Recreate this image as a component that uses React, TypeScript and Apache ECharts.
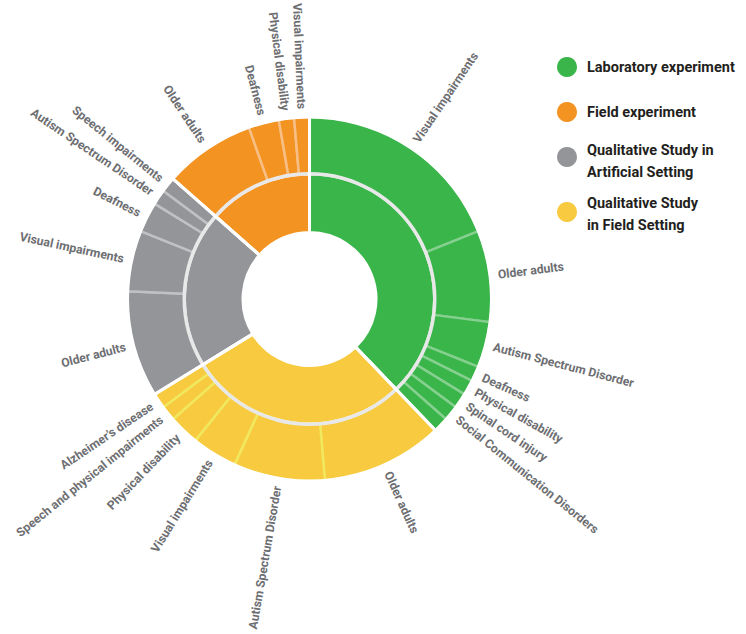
import React, { useEffect, useRef } from "react";
import * as echarts from "echarts";

// ---- data ----
const categories = [
  "Laboratory experiment",
  "Qualitative Study in Field Setting",
  "Qualitative Study in Artificial Setting",
  "Field experiment",
];
const categoryColors = ["#39b54a", "#f7ca40", "#939598", "#f39321"];
const separatorColors = ["#86d08f", "#f1e85e", "#c0c1c3", "#f7bf85"];

const labNames = [
  "Visual impairments",
  "Older adults",
  "Autism Spectrum Disorder",
  "Deafness",
  "Physical disability",
  "Spinal cord injury",
  "Social Communication Disorders",
  "",
];
const labValues = [14, 6, 3, 1, 1, 1, 1, 1];

const qualFieldNames = [
  "Older adults",
  "Autism Spectrum Disorder",
  "Visual impairments",
  "Physical disability",
  "Speech and physical impairments",
  "Alzheimer’s disease",
];
const qualFieldValues = [8, 6, 3, 2, 1, 1];

const qualArtNames = [
  "Older adults",
  "Visual impairments",
  "Deafness",
  "Autism Spectrum Disorder",
  "Speech impairments",
];
const qualArtValues = [7, 4, 2, 1, 1];

const fieldNames = ["Older adults", "Deafness", "Physical disability", "Visual impairments"];
const fieldValues = [6, 2, 1, 1];

const childNames = [labNames, qualFieldNames, qualArtNames, fieldNames];
const childValues = [labValues, qualFieldValues, qualArtValues, fieldValues];

const legendOrder = [0, 3, 2, 1];
const legendLabels = [
  "Laboratory experiment",
  "Field experiment",
  "Qualitative Study in\nArtificial Setting",
  "Qualitative Study\nin Field Setting",
];

const FONT = "Roboto, 'Liberation Sans', sans-serif";

export default function App() {
  const ref = useRef<HTMLDivElement>(null);
  useEffect(() => {
    if (!ref.current) return;
    const chart = echarts.init(ref.current, null, { renderer: "svg" });
    const center = [309.5, 299];

    const sunData = categories.map((c, i) => ({
      name: c,
      itemStyle: { color: categoryColors[i] },
      children: childNames[i].map((n, j) => ({
        name: n,
        value: childValues[i][j],
        itemStyle: { color: categoryColors[i], borderColor: separatorColors[i] },
        label: n === "" ? { show: false } : undefined,
      })),
    }));
    const catTotals = childValues.map((arr) => arr.reduce((a, b) => a + b, 0));

    const legendCircleY = [67, 112, 157, 212];
    const legendTextY = [67, 112, 161, 214];
    const graphic: any[] = [];
    legendOrder.forEach((ci, k) => {
      graphic.push({
        type: "circle",
        shape: { cx: 567, cy: legendCircleY[k], r: 10 },
        style: { fill: categoryColors[ci] },
      });
      graphic.push({
        type: "text",
        x: 587,
        y: legendTextY[k],
        style: {
          text: legendLabels[k],
          fill: "#231f20",
          font: `bold 14.5px ${FONT}`,
          verticalAlign: "middle",
          textVerticalAlign: "middle",
          lineHeight: 22,
        },
      });
    });

    chart.setOption({
      animation: false,
      backgroundColor: "#ffffff",
      graphic,
      series: [
        {
          type: "sunburst",
          center,
          sort: null,
          nodeClick: false,
          startAngle: 90,
          emphasis: { focus: "none" },
          data: sunData,
          levels: [
            {},
            {
              r0: 66.5,
              r: 125,
              itemStyle: { borderColor: "#ffffff", borderWidth: 3 },
              label: { show: false },
            },
            {
              r0: 125,
              r: 182,
              itemStyle: { borderWidth: 2.5 },
              label: {
                show: true,
                position: "outside",
                rotate: "radial",
                distance: 8,
                color: "#6d6e71",
                fontWeight: "bold",
                fontSize: 12.2,
                fontFamily: FONT,
              },
            },
          ],
        },
        {
          type: "pie",
          z: 3,
          silent: true,
          center,
          radius: [180.5, 188],
          label: { show: false },
          labelLine: { show: false },
          itemStyle: { color: "#ffffff", borderWidth: 0 },
          data: [{ value: 1, name: "outerCover" }],
        },
        {
          type: "pie",
          z: 3,
          silent: true,
          center,
          radius: [123.5, 127],
          label: { show: false },
          labelLine: { show: false },
          itemStyle: { color: "#e8e8e8", borderWidth: 0 },
          data: [{ value: 1, name: "ringGap" }],
        },
        {
          type: "pie",
          z: 4,
          silent: true,
          center,
          startAngle: 90,
          clockwise: true,
          radius: [60, 186],
          label: { show: false },
          labelLine: { show: false },
          itemStyle: { color: "rgba(0,0,0,0)", borderColor: "#ffffff", borderWidth: 3 },
          data: categories.map((c, i) => ({ name: c, value: catTotals[i] })),
        },
      ],
    });
    return () => chart.dispose();
  }, []);
  return (
    <div
      ref={ref}
      style={{ position: "fixed", left: 0, top: 0, width: 746, height: 634, background: "#fff" }}
    />
  );
}
